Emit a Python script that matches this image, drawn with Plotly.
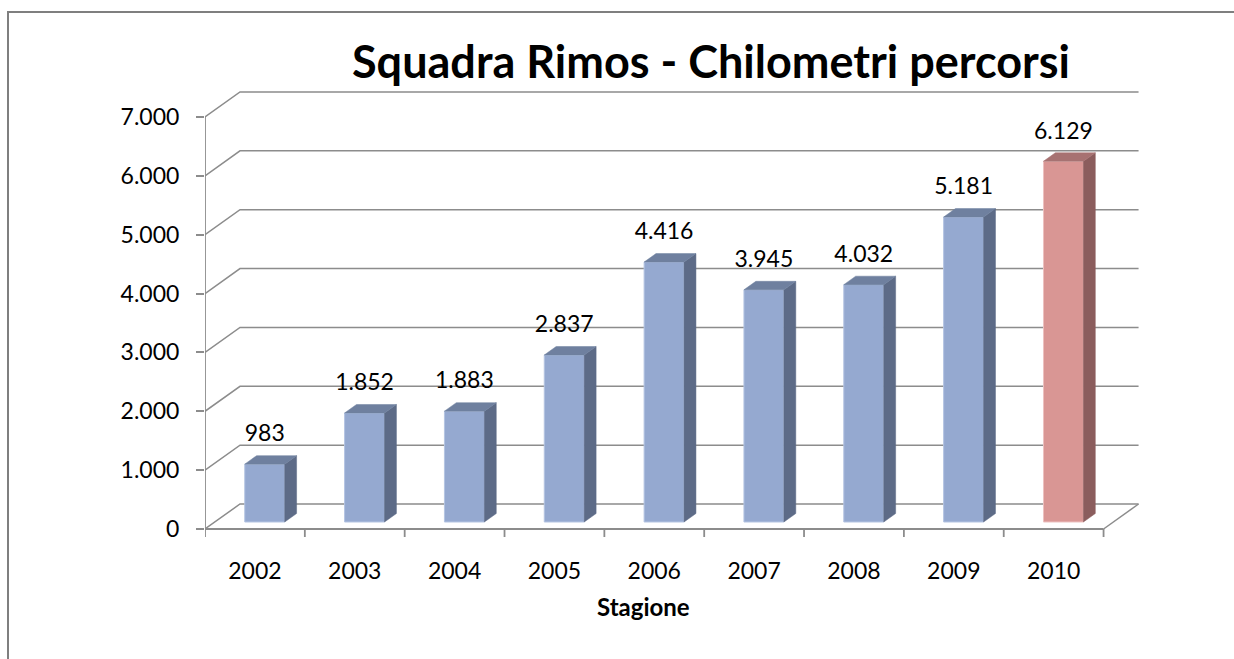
import plotly.graph_objects as go

# ---------------- data ----------------
seasons = ["2002", "2003", "2004", "2005", "2006", "2007", "2008", "2009", "2010"]
km = [983, 1852, 1883, 2837, 4416, 3945, 4032, 5181, 6129]
y_ticks = [0, 1000, 2000, 3000, 4000, 5000, 6000, 7000]
highlight = "2010"

title_text = "Squadra Rimos - Chilometri percorsi"
x_title = "Stagione"

# ---------------- geometry (pixel scale of the picture) ----------------
W, H = 1234, 659
ML, MR, MT, MB = 205, 90, 80, 106
PX_PER_CAT = 99.84          # pixels per category
PX_PER_VAL = 0.05886        # pixels per km
Y_PIX0 = 529                # pixel of y = 0

plot_w = W - ML - MR
plot_h = H - MT - MB
x_range = [0, plot_w / PX_PER_CAT]
y_top = (Y_PIX0 - MT) / PX_PER_VAL
y_bot = y_top - plot_h / PX_PER_VAL

DX = 35 / PX_PER_CAT        # depth offset in x (category units)
DY = 25 / PX_PER_VAL        # depth offset in y (value units)
Z0, ZD = 0.28, 0.34         # bar depth start and thickness (fraction of floor depth)
BAR_W = 0.40
N = len(seasons)

GRID = "#8c8c8c"
FONT = "Lato, 'Open Sans', sans-serif"

fig = go.Figure()

# back wall grid lines + left wall diagonals
gx, gy = [], []
for t in y_ticks:
    gx += [0, DX, N + DX, None]
    gy += [t, t + DY, t + DY, None]
# floor right edge
gx += [N, N + DX, None]
gy += [0, DY, None]
fig.add_trace(go.Scatter(x=gx, y=gy, mode="lines", line=dict(color=GRID, width=1.5),
                         hoverinfo="skip", showlegend=False))

# front axes: vertical value axis, horizontal category axis, category ticks
tick_len = 8 / PX_PER_VAL
ax_x = [0, 0, None, 0, N, None]
ax_y = [0, y_ticks[-1], None, 0, 0, None]
for i in range(N + 1):
    ax_x += [i, i, None]
    ax_y += [0, -tick_len, None]
fig.add_trace(go.Scatter(x=ax_x, y=ax_y, mode="lines", line=dict(color=GRID, width=1.8),
                         hoverinfo="skip", showlegend=False))

# 3D-looking bars
blue = dict(front="#95a9d0", edge="#b4c4e2", side="#5d6b87", top="#6f809f")
red = dict(front="#d99694", edge="#ecc1c0", side="#8b5d5d", top="#a77272")

lab_x, lab_y, lab_t = [], [], []
for i, (s, v) in enumerate(zip(seasons, km)):
    c = red if s == highlight else blue
    L = i + 0.5 - BAR_W / 2 + Z0 * DX
    R = L + BAR_W
    yb = Z0 * DY
    yt = v + yb
    ddx, ddy = ZD * DX, ZD * DY
    # front
    fig.add_trace(go.Scatter(x=[L, R, R, L, L], y=[yb, yb, yt, yt, yb], fill="toself",
                             fillcolor=c["front"], mode="lines",
                             line=dict(color=c["edge"], width=1),
                             hoverinfo="skip", showlegend=False))
    # side
    fig.add_trace(go.Scatter(x=[R, R + ddx, R + ddx, R, R], y=[yb, yb + ddy, yt + ddy, yt, yb],
                             fill="toself", fillcolor=c["side"], mode="lines",
                             line=dict(color=c["side"], width=0.5),
                             hoverinfo="skip", showlegend=False))
    # top
    fig.add_trace(go.Scatter(x=[L, R, R + ddx, L + ddx, L], y=[yt, yt, yt + ddy, yt + ddy, yt],
                             fill="toself", fillcolor=c["top"], mode="lines",
                             line=dict(color=c["top"], width=0.5),
                             hoverinfo="skip", showlegend=False))
    lab_x.append((L + R) / 2)
    lab_y.append(yt + ddy + 20 / PX_PER_VAL)
    lab_t.append(f"{v:,}".replace(",", "."))

fig.add_trace(go.Scatter(x=lab_x, y=lab_y, text=lab_t, mode="text",
                         textposition="middle center",
                         textfont=dict(family=FONT, size=23, color="#000000"),
                         cliponaxis=False, hoverinfo="skip", showlegend=False))

# outer chart border
def px_to_paper_x(p):
    return (p - ML) / plot_w

def px_to_paper_y(p):
    return (H - MB - p) / plot_h

fig.add_shape(type="rect", xref="paper", yref="paper",
              x0=px_to_paper_x(8), x1=px_to_paper_x(W + 20),
              y0=px_to_paper_y(H + 20), y1=px_to_paper_y(12),
              line=dict(color="#7f7f7f", width=2), fillcolor="rgba(0,0,0,0)", layer="below")

fig.add_annotation(text=f"<b>{x_title}</b>", xref="paper", yref="paper",
                   x=px_to_paper_x(643), y=px_to_paper_y(606), showarrow=False,
                   xanchor="center", yanchor="middle",
                   font=dict(family=FONT, size=24, color="#000000"))

fig.update_layout(
    width=W, height=H,
    margin=dict(l=ML, r=MR, t=MT, b=MB, pad=0),
    paper_bgcolor="white", plot_bgcolor="white",
    separators=",.",
    title=dict(text=f"<b>{title_text}</b>", x=711 / W, xanchor="center",
               y=1 - 62 / H, yanchor="middle",
               font=dict(family=FONT, size=45, color="#000000")),
    xaxis=dict(range=x_range, showgrid=False, zeroline=False, showline=False,
               tickmode="array", tickvals=[i + 0.5 for i in range(N)], ticktext=seasons,
               ticks="", tickfont=dict(family=FONT, size=23, color="#000000"),
               ticklabelstandoff=2, fixedrange=True),
    yaxis=dict(range=[y_bot, y_top], showgrid=False, zeroline=False, showline=False,
               tickmode="array", tickvals=y_ticks, tickformat=",d",
               ticks="outside", ticklen=8, tickcolor=GRID, tickwidth=1.8,
               tickfont=dict(family=FONT, size=23, color="#000000"),
               ticklabelstandoff=12, fixedrange=True),
)

fig.write_html("out.html", config={"displayModeBar": False},
               post_script="document.body.style.margin='0';document.body.style.overflow='hidden';")
